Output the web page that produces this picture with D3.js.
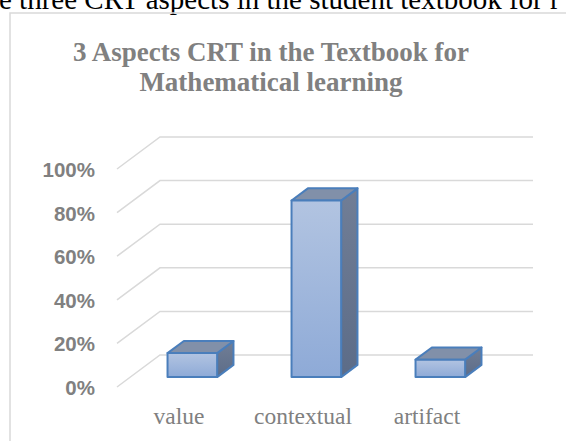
<!DOCTYPE html>
<html>
<head>
<meta charset="utf-8">
<script src="https://cdn.jsdelivr.net/npm/d3@7"></script>
<style>
  html, body { margin: 0; padding: 0; background: #fff; }
  svg { display: block; }
</style>
</head>
<body>
<div id="chart"></div>
<script>
// chart values
const categories = ['value', 'contextual', 'artifact'];
const shares = [0.11, 0.81, 0.08];
const ticks = [0, 0.2, 0.4, 0.6, 0.8, 1.0];
const titleLines = ['3 Aspects CRT in the Textbook for', 'Mathematical learning'];
const captionText = 'e three CRT aspects in the student textbook for r';

const width = 566, height = 441;

// fake 3d: front plane + depth vector towards the back wall
const depth = { dx: 43, dy: -32 };
const barFront = 0.31, barBack = 0.69;   // depth fraction of the bar faces

const x = d3.scaleBand()
  .domain(categories)
  .range([117, 489])
  .paddingInner(0.6)
  .paddingOuter(0.3);

const y = d3.scaleLinear()
  .domain([0, 1])
  .range([387, 169]);

const shift = t => [depth.dx * t, depth.dy * t];

const svg = d3.select('#chart').append('svg')
  .attr('width', width)
  .attr('height', height);

const defs = svg.append('defs');
const frontGrad = defs.append('linearGradient')
  .attr('id', 'front-grad').attr('x1', 0).attr('y1', 0).attr('x2', 0).attr('y2', 1);
frontGrad.append('stop').attr('offset', '0%').attr('stop-color', '#b2c4e1');
frontGrad.append('stop').attr('offset', '100%').attr('stop-color', '#8eaad7');
const sideGrad = defs.append('linearGradient')
  .attr('id', 'side-grad').attr('x1', 0).attr('y1', 0).attr('x2', 0).attr('y2', 1);
sideGrad.append('stop').attr('offset', '0%').attr('stop-color', '#717e96');
sideGrad.append('stop').attr('offset', '100%').attr('stop-color', '#5c6c88');

// caption of the document, cut off at the top like in the scan
svg.append('text')
  .attr('x', -1)
  .attr('y', 9)
  .attr('font-family', '"Liberation Serif", "Times New Roman", serif')
  .attr('font-size', 29)
  .attr('fill', '#000')
  .text(captionText);

// chart frame (only top and left show)
svg.append('path')
  .attr('d', `M10,${height} L10,13 L${width},13`)
  .attr('fill', 'none')
  .attr('stroke', '#d9d9d9')
  .attr('stroke-width', 1.5);

// title
svg.append('g')
  .selectAll('text')
  .data(titleLines)
  .join('text')
    .attr('x', 271)
    .attr('y', (d, i) => 61 + i * 30)
    .attr('text-anchor', 'middle')
    .attr('font-family', '"Liberation Serif", "Times New Roman", serif')
    .attr('font-weight', 'bold')
    .attr('font-size', 27)
    .attr('fill', '#808080')
    .text(d => d);

// gridlines: diagonal on the side wall, then along the back wall
const back = shift(1);
const wallRight = 533;
svg.append('g')
  .selectAll('path')
  .data(ticks)
  .join('path')
    .attr('d', d => {
      const x0 = x.range()[0], y0 = y(d);
      return `M${x0},${y0} L${x0 + back[0]},${y0 + back[1]} L${wallRight},${y0 + back[1]}`;
    })
    .attr('fill', 'none')
    .attr('stroke', '#d9d9d9')
    .attr('stroke-width', 1.5);

// y tick labels
svg.append('g')
  .selectAll('text')
  .data(ticks)
  .join('text')
    .attr('x', 95)
    .attr('y', d => y(d) + 8)
    .attr('text-anchor', 'end')
    .attr('font-family', '"Liberation Sans", Arial, sans-serif')
    .attr('font-weight', 'bold')
    .attr('font-size', 20.5)
    .attr('fill', '#808080')
    .text(d3.format('.0%'));

// bars
const bars = svg.append('g')
  .selectAll('g')
  .data(categories.map((c, i) => ({ c, v: shares[i] })))
  .join('g')
    .attr('stroke', '#4a7ebb')
    .attr('stroke-width', 2)
    .attr('stroke-linejoin', 'round');

const f = shift(barFront), b = shift(barBack);
const ddx = b[0] - f[0], ddy = b[1] - f[1];

bars.each(function (d) {
  const g = d3.select(this);
  const x0 = x(d.c) + f[0], x1 = x0 + x.bandwidth();
  const yb = y(0) + f[1], yt = y(d.v) + f[1];
  // side face
  g.append('path')
    .attr('d', `M${x1},${yb} L${x1 + ddx},${yb + ddy} L${x1 + ddx},${yt + ddy} L${x1},${yt} Z`)
    .attr('fill', 'url(#side-grad)');
  // top face
  g.append('path')
    .attr('d', `M${x0},${yt} L${x0 + ddx},${yt + ddy} L${x1 + ddx},${yt + ddy} L${x1},${yt} Z`)
    .attr('fill', '#8190a9');
  // front face
  g.append('rect')
    .attr('x', x0)
    .attr('y', yt)
    .attr('width', x.bandwidth())
    .attr('height', yb - yt)
    .attr('fill', 'url(#front-grad)');
});

// category labels
svg.append('g')
  .selectAll('text')
  .data(categories)
  .join('text')
    .attr('x', d => x(d) + x.bandwidth() / 2)
    .attr('y', 424)
    .attr('text-anchor', 'middle')
    .attr('font-family', '"Liberation Serif", "Times New Roman", serif')
    .attr('font-size', 23.5)
    .attr('fill', '#808080')
    .text(d => d);
</script>
</body>
</html>
